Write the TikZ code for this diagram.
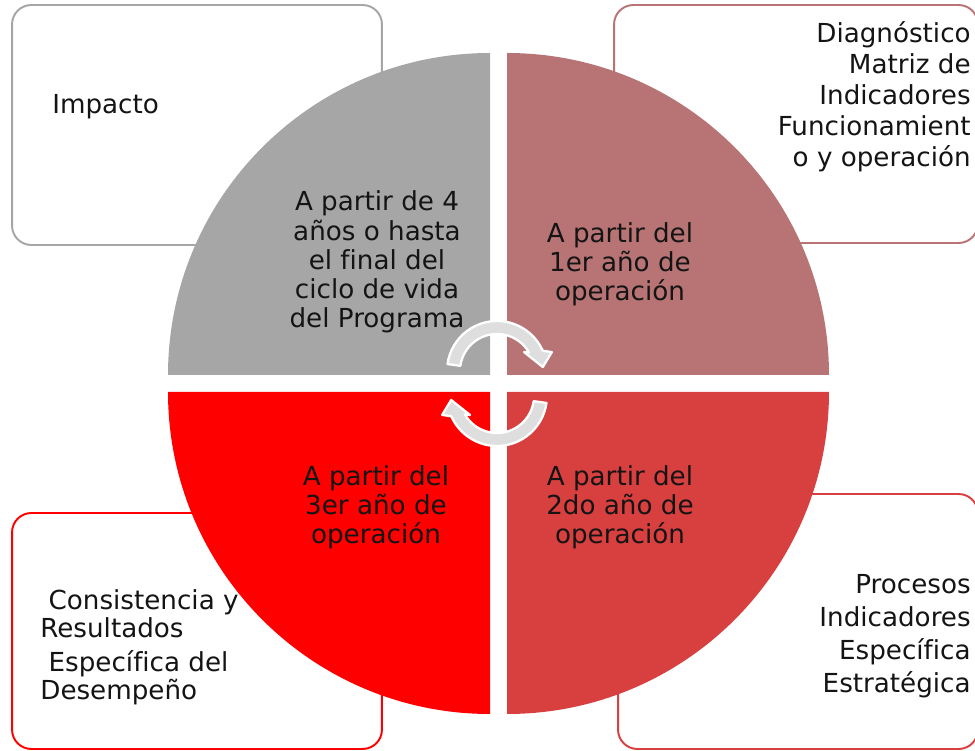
\documentclass[tikz,border=0pt]{standalone}
\usepackage{fontspec}
\setmainfont[Ligatures=NoCommon]{DejaVu Sans}
\usetikzlibrary{positioning}
\definecolor{greyq}{HTML}{A6A6A6}
\definecolor{roseq}{HTML}{B87474}
\definecolor{crimq}{HTML}{D83F3F}
\definecolor{redq}{HTML}{FF0000}
\definecolor{cycgrey}{HTML}{DEDEDE}
\definecolor{ink}{HTML}{141414}

\begin{document}
\begin{tikzpicture}[x=0.02cm, y=0.02cm,
  box/.style={rounded corners=11pt, line width=1.1pt, fill=white, inner sep=0pt},
  qtext/.style={align=center, inner sep=0pt, text=ink, font=\fontsize{14.9}{16.6}\selectfont},
  btext/.style={inner sep=0pt, text=ink, font=\fontsize{14.9}{17.6}\selectfont},
  cyc/.style={fill=cycgrey, draw=white, line width=1.3pt, line join=round}]
\useasboundingbox (0,0) rectangle (975,751);
\node[box, draw=greyq, minimum width=7.4cm, minimum height=4.8cm] (tlbox) at (197,626) {};
\node[box, draw=roseq, minimum width=7.28cm, minimum height=4.76cm] (trbox) at (796,627) {};
\node[box, draw=redq, minimum width=7.4cm, minimum height=4.72cm] (blbox) at (197,120) {};
\node[box, draw=crimq, minimum width=7.2cm, minimum height=5.1cm] (brbox) at (798,129.5) {};
\fill[greyq] (490,376) -- (168,376) arc[start angle=180, end angle=90, radius=322] -- cycle;
\fill[roseq] (507,376) -- (507,698) arc[start angle=90, end angle=0, radius=322] -- cycle;
\fill[crimq] (507,359) -- (829,359) arc[start angle=0, end angle=-90, radius=322] -- cycle;
\fill[redq] (490,359) -- (490,37) arc[start angle=270, end angle=180, radius=322] -- cycle;
\coordinate (c1) at (497,380);
\coordinate (c2) at (497,355);
\filldraw[cyc] ([shift={(c1)}]172:50) arc[start angle=172, end angle=24, radius=50]
  -- ([shift={(c1)}]19:58) -- ([shift={(c1)}]5:46) -- ([shift={(c1)}]35:33)
  -- ([shift={(c1)}]30:37) arc[start angle=30, end angle=172, radius=37] -- cycle;
\filldraw[cyc] ([shift={(c2)}]-8:50) arc[start angle=-8, end angle=-156, radius=50]
  -- ([shift={(c2)}]199:58) -- ([shift={(c2)}]185:46) -- ([shift={(c2)}]215:33)
  -- ([shift={(c2)}]210:37) arc[start angle=210, end angle=352, radius=37] -- cycle;
\node[qtext] (q1) at (377,489) {A partir de 4\\años o hasta\\el final del\\ciclo de vida\\del Programa};
\node[qtext] (q2) at (620,487) {A partir del\\1er año de\\operación};
\node[qtext] (q3) at (620,244) {A partir del\\2do año de\\operación};
\node[qtext] (q4) at (376,244) {A partir del\\3er año de\\operación};
\node[btext, anchor=west] (imp) at (52,644) {Impacto};
\node[btext, anchor=east, align=right] (diag) at (971,654) {Diagnóstico\\Matriz de\\Indicadores\\Funcionamient\\o y operación};
\node[btext, anchor=east, align=right, font=\fontsize{14.9}{18.7}\selectfont] (proc) at (971,115) {Procesos\\Indicadores\\Específica\\Estratégica};
\node[btext, anchor=west, align=left, font=\fontsize{14.9}{15.9}\selectfont] (cons) at (40,104) {\ Consistencia y\\Resultados\\[3.4pt]\ Específica del\\Desempeño};
\end{tikzpicture}
\end{document}
